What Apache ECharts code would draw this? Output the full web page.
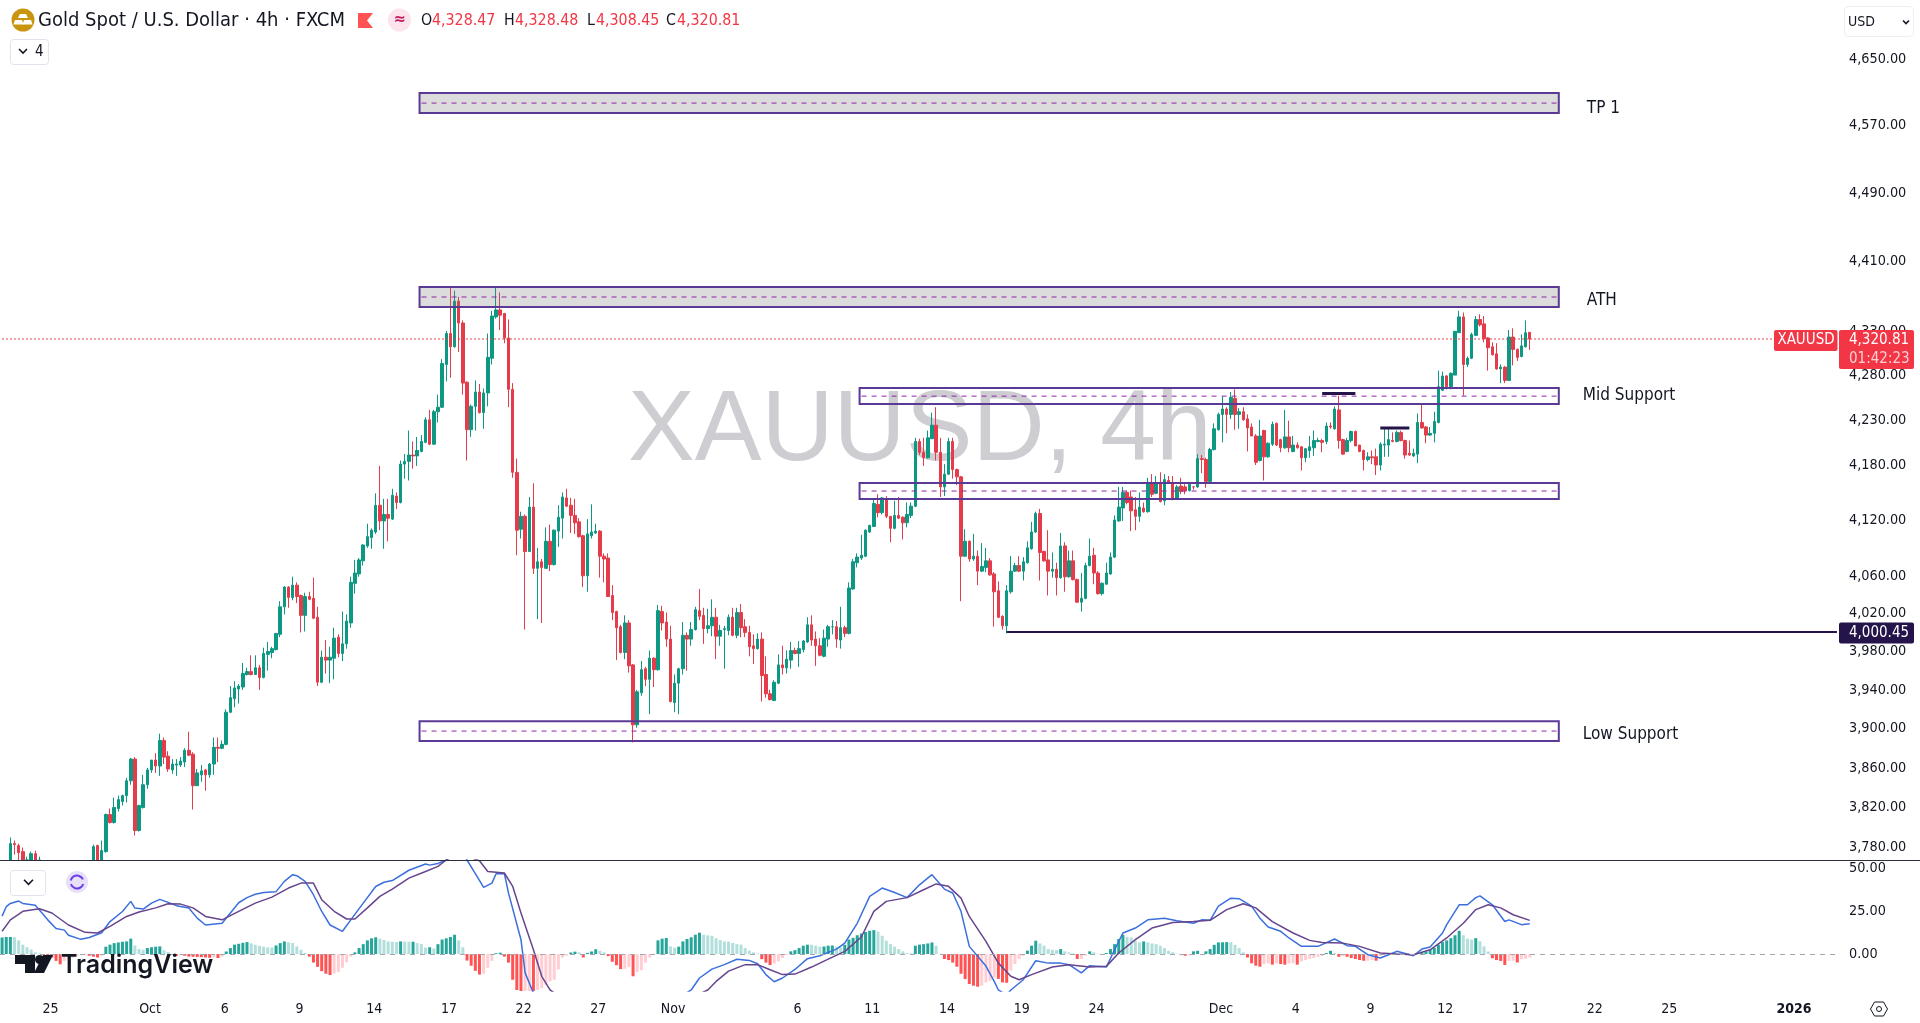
<!DOCTYPE html>
<html><head><meta charset="utf-8">
<style>html,body{margin:0;padding:0;background:#fff;overflow:hidden}#c{width:1920px;height:1023px}</style>
<script src="https://cdn.jsdelivr.net/npm/echarts@6/dist/echarts.min.js"></script>
</head><body><div id="c"></div>
<script>
// ---- price ticks and date ticks ----
const priceTicks=[4650,4570,4490,4410,4330,4280,4230,4180,4120,4060,4020,3980,3940,3900,3860,3820,3780];
const macdTicks=[0,25,50];
const dateTickIndex=[10,34,52,70,88,106,124,142,160,190,208,226,244,262,292,310,328,346,364,382,400,430];
const dateTickLabel=['25','Oct','6','9','14','17','22','27','Nov','6','11','14','19','24','Dec','4','9','12','17','22','25','2026'];
// ---- candles: [open, high, low, close] ----
const ohlc=[
[3760,3790,3750,3784],[3784,3787,3773,3783],[3782,3784,3760,3775],[3776,3780,3750,3755],[3762,3771,3740,3745],
[3750,3776,3745,3774],[3774,3777,3750,3755],[3767,3771,3740,3745],[3745,3750,3730,3735],[3735,3745,3725,3740],
[3740,3750,3732,3736],[3736,3748,3730,3745],[3745,3755,3740,3750],[3750,3760,3742,3746],[3746,3752,3735,3740],
[3740,3750,3735,3748],[3748,3758,3742,3744],[3744,3752,3738,3750],[3750,3758,3745,3755],[3755,3762,3748,3758],
[3758,3783,3752,3781],[3782,3783,3755,3760],[3760,3787,3755,3777],[3776,3814,3775,3813],[3813,3819,3804,3805],
[3805,3830,3804,3820],[3819,3832,3816,3828],[3826,3833,3822,3832],[3832,3850,3825,3847],[3847,3870,3843,3869],
[3869,3871,3792,3797],[3797,3823,3796,3822],[3820,3853,3819,3843],[3843,3860,3839,3858],[3858,3868,3855,3868],
[3868,3875,3855,3862],[3862,3895,3852,3888],[3888,3891,3864,3871],[3872,3877,3856,3859],[3858,3869,3854,3864],
[3863,3869,3852,3864],[3863,3871,3861,3867],[3866,3880,3861,3878],[3878,3897,3872,3873],[3874,3876,3818,3842],
[3842,3859,3842,3855],[3853,3863,3846,3857],[3858,3859,3837,3853],[3853,3865,3850,3864],[3864,3891,3853,3881],
[3881,3891,3866,3880],[3880,3888,3879,3884],[3884,3920,3883,3917],[3917,3944,3916,3932],[3931,3949,3922,3942],
[3941,3946,3926,3944],[3943,3968,3940,3957],[3956,3963,3955,3959],[3959,3976,3955,3956],[3956,3976,3956,3963],
[3963,3966,3940,3953],[3953,3984,3952,3978],[3977,3990,3960,3980],[3979,3985,3973,3983],[3982,3999,3981,3999],
[3998,4033,3995,4027],[4027,4049,4019,4048],[4048,4049,4026,4037],[4037,4059,4034,4050],[4050,4053,4031,4038],
[4039,4040,4000,4018],[4018,4042,4001,4038],[4038,4043,4034,4035],[4036,4058,4014,4015],[4016,4027,3944,3948],
[3948,3981,3947,3974],[3974,3992,3957,3971],[3971,3985,3947,3974],[3973,4005,3951,3994],[3995,3998,3974,3978],
[3978,4022,3970,3988],[3988,4019,3983,4012],[4010,4059,4005,4053],[4052,4077,4041,4063],[4062,4079,4059,4077],
[4076,4094,4071,4093],[4092,4116,4090,4102],[4101,4111,4089,4109],[4107,4149,4105,4136],[4136,4179,4109,4119],
[4119,4143,4089,4126],[4126,4143,4097,4122],[4121,4154,4120,4147],[4146,4150,4132,4139],[4139,4185,4138,4181],
[4181,4192,4165,4184],[4184,4218,4163,4191],[4191,4206,4176,4190],[4190,4211,4179,4196],[4195,4213,4194,4206],
[4205,4233,4204,4230],[4230,4241,4202,4203],[4203,4241,4202,4239],[4239,4258,4227,4244],[4244,4298,4243,4293],
[4292,4330,4273,4327],[4327,4379,4277,4312],[4312,4376,4311,4364],[4364,4369,4306,4339],[4339,4342,4258,4271],
[4272,4273,4185,4219],[4219,4247,4211,4245],[4245,4274,4218,4261],[4261,4270,4237,4238],[4238,4265,4220,4260],
[4260,4327,4245,4300],[4299,4353,4292,4347],[4346,4381,4344,4354],[4354,4374,4331,4348],[4350,4350,4316,4322],
[4322,4343,4244,4264],[4264,4271,4166,4172],[4172,4187,4082,4109],[4110,4129,4100,4124],[4124,4126,4003,4086],
[4086,4145,4086,4134],[4134,4160,4062,4068],[4068,4090,4014,4075],[4075,4078,4010,4069],[4068,4112,4068,4097],
[4097,4115,4065,4072],[4072,4110,4071,4109],[4108,4136,4091,4123],[4122,4150,4100,4145],[4144,4154,4134,4135],
[4136,4144,4106,4125],[4125,4143,4105,4117],[4118,4122,4101,4102],[4103,4104,4048,4060],[4060,4121,4043,4105],
[4103,4137,4100,4107],[4106,4116,4105,4108],[4108,4109,4058,4081],[4081,4084,4053,4078],[4079,4084,4038,4038],
[4039,4050,4013,4021],[4022,4023,3971,4005],[4006,4008,3978,3979],[3979,4018,3972,4010],[4010,4013,3958,3965],
[3966,3967,3886,3904],[3904,3940,3901,3938],[3937,3970,3934,3961],[3962,3964,3944,3951],[3951,3981,3915,3973],
[3973,3974,3943,3961],[3961,4029,3960,4023],[4022,4028,4002,4010],[4011,4021,3985,3993],[3993,4007,3927,3928],
[3927,3956,3917,3947],[3947,3963,3915,3962],[3962,4011,3956,3997],[3997,4000,3960,3993],[3993,4011,3986,4003],
[4003,4027,4002,4024],[4023,4046,4013,4017],[4018,4026,3988,4004],[4004,4025,3999,4007],[4007,4035,3996,4016],
[4016,4026,3972,3996],[3996,4008,3986,4002],[4003,4007,3962,4004],[4002,4019,3997,4016],[4016,4026,3996,3997],
[3997,4026,3994,4021],[4021,4030,3995,4005],[4006,4014,3995,4000],[4000,4007,3975,3985],[3986,3998,3967,3983],
[3983,3999,3982,3993],[3993,4000,3928,3955],[3956,3975,3932,3936],[3936,3940,3929,3930],[3929,3950,3929,3948],
[3947,3977,3946,3966],[3966,3986,3956,3963],[3963,3981,3957,3972],[3971,3990,3962,3981],[3981,3984,3977,3978],
[3978,3991,3964,3983],[3982,3992,3979,3991],[3990,4016,3989,4008],[4008,4018,3986,3992],[3993,4001,3965,3986],
[3986,3994,3975,3976],[3975,4003,3974,3994],[3993,4008,3985,4006],[4006,4013,3998,4006],[4006,4012,3984,3993],
[3992,4027,3983,4005],[4005,4007,3995,3999],[3999,4053,3998,4047],[4046,4078,4045,4075],[4074,4084,4069,4080],
[4079,4104,4077,4082],[4081,4110,4080,4109],[4107,4115,4106,4114],[4113,4142,4113,4138],[4137,4148,4123,4128],
[4128,4145,4126,4144],[4142,4146,4122,4124],[4124,4124,4096,4111],[4111,4141,4110,4125],[4125,4145,4121,4122],
[4123,4124,4099,4117],[4117,4139,4112,4126],[4125,4139,4122,4135],[4135,4210,4134,4206],[4206,4209,4191,4194],
[4194,4210,4179,4188],[4188,4218,4187,4210],[4209,4238,4209,4224],[4224,4244,4185,4194],[4194,4210,4145,4156],
[4156,4181,4146,4170],[4170,4210,4169,4206],[4206,4210,4165,4175],[4175,4176,4158,4167],[4167,4168,4033,4081],
[4081,4110,4080,4097],[4097,4098,4075,4078],[4078,4105,4076,4081],[4081,4087,4050,4065],[4065,4095,4064,4070],
[4069,4090,4064,4076],[4076,4079,4060,4061],[4062,4064,4006,4043],[4044,4054,4015,4016],[4017,4018,4003,4007],
[4007,4050,3999,4044],[4043,4081,4041,4065],[4065,4074,4064,4071],[4071,4081,4064,4065],[4065,4080,4055,4075],
[4074,4097,4073,4090],[4089,4118,4088,4107],[4107,4129,4106,4127],[4127,4132,4055,4085],[4086,4087,4075,4076],
[4077,4109,4039,4065],[4065,4085,4058,4067],[4067,4074,4039,4058],[4058,4106,4057,4092],[4092,4096,4043,4059],
[4059,4087,4058,4076],[4076,4087,4055,4056],[4056,4057,4031,4032],[4032,4063,4022,4036],[4036,4074,4035,4071],
[4071,4100,4070,4081],[4082,4090,4051,4063],[4063,4065,4040,4041],[4041,4053,4039,4052],[4051,4074,4051,4063],
[4062,4085,4061,4080],[4080,4125,4079,4120],[4119,4156,4118,4134],[4133,4156,4119,4150],[4150,4152,4137,4139],
[4145,4152,4108,4130],[4131,4145,4109,4124],[4124,4150,4118,4134],[4133,4139,4128,4129],[4129,4166,4128,4161],
[4160,4170,4145,4148],[4149,4168,4148,4160],[4161,4172,4139,4140],[4141,4170,4136,4164],[4163,4168,4160,4161],
[4161,4168,4142,4142],[4143,4158,4142,4156],[4157,4166,4148,4151],[4156,4159,4148,4152],[4152,4161,4151,4159],
[4156,4157,4153,4156],[4156,4192,4155,4187],[4187,4191,4171,4186],[4186,4188,4155,4162],[4162,4199,4161,4197],
[4197,4226,4196,4220],[4219,4238,4218,4236],[4236,4256,4205,4242],[4242,4244,4215,4236],[4236,4261,4231,4255],
[4254,4264,4219,4236],[4236,4243,4220,4239],[4239,4244,4229,4230],[4231,4236,4195,4221],[4222,4226,4212,4212],
[4212,4214,4180,4183],[4185,4230,4184,4212],[4218,4219,4163,4189],[4189,4205,4188,4204],[4203,4228,4201,4225],
[4226,4227,4201,4202],[4208,4209,4194,4199],[4199,4241,4198,4211],[4211,4229,4194,4199],[4195,4212,4194,4202],
[4202,4205,4198,4199],[4200,4201,4174,4188],[4188,4198,4183,4198],[4196,4212,4188,4200],[4199,4218,4190,4207],
[4206,4210,4205,4207],[4207,4209,4194,4205],[4206,4227,4203,4223],[4223,4227,4220,4222],[4220,4245,4219,4242],
[4241,4257,4198,4207],[4208,4209,4191,4192],[4195,4210,4194,4207],[4207,4218,4205,4217],[4217,4218,4201,4201],
[4202,4202,4194,4195],[4196,4197,4174,4186],[4186,4194,4184,4189],[4189,4196,4181,4188],[4189,4198,4169,4180],
[4180,4205,4174,4203],[4202,4220,4189,4203],[4202,4221,4189,4208],[4207,4216,4205,4206],[4206,4218,4205,4216],
[4216,4218,4206,4207],[4207,4208,4187,4191],[4193,4207,4190,4191],[4190,4198,4189,4193],[4192,4237,4182,4227],
[4227,4247,4220,4221],[4222,4223,4204,4213],[4213,4222,4212,4215],[4215,4239,4205,4228],[4227,4285,4226,4267],
[4263,4284,4262,4279],[4279,4280,4264,4267],[4267,4283,4264,4282],[4280,4330,4280,4329.5],[4328,4353,4328,4346],
[4346,4351,4257,4292],[4292,4301,4289,4299],[4299,4328,4298,4326],[4325,4347,4324,4343],[4343,4349,4335,4337],
[4338,4347,4317,4321],[4322,4323,4285,4311],[4312,4317,4302,4303],[4304,4316,4286,4287],[4287,4292,4271,4289],
[4289,4290,4271,4274],[4274,4331,4274,4323],[4323,4333,4291,4309],[4309,4310,4296,4300],[4301,4326,4300,4313],
[4312,4342,4311,4328],[4328.47,4328.48,4308.45,4320.81]
];
// ---- MACD histogram, from the bar two places left of the first candle ----
const macdHist=[
9.7,10,10,9.8,8,5.5,4,2.7,1,.4,-.5,-1,-2,-4,-6,-4,-3,-2,-1,-.6,-.5,-1,-1.5,-2,-1,
4.3,5.5,6.4,6.8,7.2,7.4,9,5,3,2.5,3.5,4,4.3,4.5,2.3,1.2,
-.5,-1,-.8,-1,-1.5,-1.6,-1.7,-1.8,-2,-2.2,-2,-2.3,-1.5,
1.5,3.5,5.5,6,6.6,7,6.3,5.4,4.8,4.3,3.9,3.8,5,6.4,7.4,6.9,6.5,4.4,2.5,.6,
-1.5,-5,-7.5,-10,-11.5,-12.3,-11.3,-10.5,-8,-4.8,-1.5,
1,3.5,5.8,8,9.2,9.8,9,8.2,7.4,7.2,7,7.4,7.3,7.2,7.2,6.4,5.8,3.8,4,3.3,5.8,8.5,9.2,10,11.3,8,4,
-3.8,-6.8,-9.8,-12,-11.5,-8,-4,.5,.8,
-1.5,-5,-15,-21,-22,-22,-22,-23,-21,-20,-18,-16,-15,-9,-2,-1,
.9,1.4,1,-2,.7,1.5,2.8,1.9,1,
-1.2,-4.5,-6.5,-8.8,-8.6,-7.5,-13,-10.5,-9.5,-5,-2,-.5,
8,9,9.4,4.5,3.8,4.3,
7.4,8.8,9.8,11.3,12.5,11.3,10.9,10.7,9.3,8.2,7.4,7.3,6.5,5.8,5.5,3.5,2,1,.4,
-3,-5,-6.4,-5.5,-4.3,-2.3,-.6,
1.6,2.3,3.5,4.9,5.5,5.4,4.9,4.3,4.4,4.9,5,4.3,3.9,5.4,8.5,9.5,11,12,12.9,13.6,14,13.2,10.7,7.8,5.8,4.3,2.9,1.6,.6,.4,
4.9,5.5,5.8,6.2,6.8,4.9,.1,
-2.9,-3.5,-5,-7.4,-11.5,-14.6,-17.5,-18.5,-19.1,-18.5,-16.6,-15.6,-13.6,-14.5,-16.6,-16.8,-9.7,-5.8,-2.9,-1,
2,4.9,7.8,6.2,4.9,2.9,2.5,2.3,2.9,1.6,1,.3,
-2.9,-2.9,-1,1.6,1,.2,-.4,.6,2.9,5.8,8.8,11.3,10.1,9.7,7.8,6.8,7.4,6.8,6.2,5.8,4.9,3.5,1.9,1,.2,
-.6,-1,-.8,1.6,1.9,0,1.6,2.9,5.4,6.8,6.9,7,6.9,5.4,3.5,1,
-2,-5.4,-6.8,-7.4,-5.8,-5.4,-6.2,-5.4,-5.8,-6.2,-5.4,-5.4,-6.2,-4.3,-3.5,-2.9,-2.3,-1.6,-1,
.6,1.9,.6,-1.6,-1,-1.6,-2.3,-2.9,-3.5,-3.9,-3.9,-3.5,-3.9,-1,-.5,-.3,-.2,-.1,
.1,.1,-.2,-.1,.6,.9,1.5,2.5,3.6,5.5,7,8,9.3,11,13.6,11,9,8.5,9.3,7.5,4.5,1.5,
-2.5,-3.5,-4,-6.4,-4,-3.9,-4.9,-3,-2.8,-2
];
// ---- MACD line and signal line: [candle number, value] ----
const macdLine=[[-2,22.2],[-1,27.7],[0,29.6],[2,31],[3,29.6],[6,28.6],[7,25.7],[9,20],[11,15],[13,14],[14,11],[17,8.6],[19,9.7],[22,12.5],[24,19],[27,24.9],[29,30.8],[30,26.9],[32,26.3],[34,29.8],[36,32],[38,30.2],[40,28.3],[43,26.9],[45,21],[47,17],[51,18],[53,24],[55,30],[57,33],[59,35],[61,36],[64,36.5],[66,42.5],[68,46.4],[69,45.8],[71,42.5],[73,34.7],[75,24.9],[77,17],[80,13.3],[82,20],[85,29.8],[88,39.5],[90,42],[92,43],[96,49],[100,52.7],[101,52],[103,53],[105,55],[108,62],[110,55],[112,47],[114,39],[116,41.5],[117,47],[119,47],[120,35.6],[123,8.4],[124,-11],[126,-22.8],[135,-38],[140,-45],[155,-35],[164,-21],[166,-14],[169,-8.8],[172,-6.2],[175,-3],[178,-3.7],[180,-5.7],[182,-12],[184,-16.2],[186,-14],[189,-9],[192,-2.7],[195,-1],[199,2.9],[201,6.4],[204,18],[207,33.7],[210,38.6],[213,36],[216,33],[219,40.5],[222,46.4],[225,38],[227,35.7],[229,25],[231,4.5],[235,-7],[237,-16],[238,-21],[240,-24],[241,-21],[244,-15],[247,-3.9],[250,-5.3],[253,-5.3],[255,-6.2],[258,-11],[260,-6.8],[264,-7.6],[266,2.5],[268,12.3],[271,15.2],[274,20],[278,21],[281,19.5],[285,18],[287,20],[289,19.7],[291,28],[294,32.7],[296,32.4],[299,28],[301,21],[303,15.8],[306,13.3],[308,9.4],[311,4.5],[315,4.5],[319,8.8],[322,4.9],[324,4.5],[327,-.4],[330,-2.3],[332,-.4],[334,1.6],[338,-1],[340,2.9],[342,4.1],[345,12.3],[346,17.2],[349,28.8],[351,28.8],[353,33],[354,34],[357,28.8],[360,19],[361,20],[364,17.2],[366,17.7]];
const signalLine=[[-2,13.3],[0,20],[3,25],[7,26.5],[10,24],[14,17],[18,12.7],[21,12.3],[24,16.2],[28,22],[31,24.6],[35,27],[38,29.4],[41,29.2],[44,27],[47,22],[51,20],[55,25],[59,29.8],[63,33.3],[67,38.6],[70,41.5],[73,41.5],[75,31.8],[78,25],[81,20.5],[83,20.5],[86,27],[89,33.7],[92,38],[96,44.4],[100,48.3],[103,51.3],[105,55],[108,59],[113,54.6],[115,48.3],[119,47.4],[121,39.6],[123,24],[126,2.5],[128,-13],[130,-21],[140,-38],[150,-38],[160,-30],[168,-21],[170,-16],[173,-10],[177,-6.2],[180,-6.2],[183,-9.2],[186,-12],[189,-11.7],[193,-7.6],[197,-3],[201,1.6],[205,10],[208,25],[211,30.8],[216,33],[220,37.6],[223,41],[226,39.6],[229,32.7],[231,22],[235,7.4],[238,-5.3],[241,-13],[243,-15],[246,-12],[251,-7.6],[255,-6.2],[260,-7.6],[264,-7.2],[267,.6],[271,8.4],[275,15.2],[280,18.5],[285,19],[289,19.7],[293,26],[297,29.4],[300,27],[304,19],[309,12.3],[313,8],[316,6.8],[321,6.4],[325,4.5],[330,.6],[334,0],[338,-.4],[342,2.5],[346,9.4],[350,18],[353,26],[356,28.8],[359,27],[362,23],[366,19.7]];
// ---- drawn zones ----
const zoneNames=['TP 1','ATH','Mid Support','','Low Support'];
const zoneStart=[99,99,205,205,99];
const zoneEnd=[373,373,373,373,373];
const zoneTop=[4609.4,4380.3,4265.4,4160.2,3907.8];
const zoneBottom=[4585.2,4357.2,4247.5,4142.8,3887.4];
const zoneMid=[4597.3,4368.8,4256.4,4151.5,3897.6];
const zoneFilled=[1,1,0,0,0];
const zoneLabelShift=[3,1.5,-2.5,0,1];
// ---- horizontal levels ----
const lastPrice=4320.81, lowLevel=4000.45, lowLevelStart=240, levelA=[316,324,4259.4], levelB=[330,337,4221];

const PAD=2, TOTAL=443, PRICE_MIN=3767.7, PRICE_MAX=4723.6;
const GREEN='#0c9883', RED='#f23645', CANDLE_RED='#e43c4b', PURPLE='#5b3a95', NAVY='#241449', INK='#131722';
const FONT='"DejaVu Sans Condensed","DejaVu Sans",sans-serif';
const categories=new Array(TOTAL).fill('');
dateTickIndex.forEach((n,i)=>{categories[n+PAD]=dateTickLabel[i];});
const keep=v=>Math.max(v,PRICE_MIN); // the pane hides what falls under its floor
const candleData=new Array(PAD).fill(['-','-','-','-']).concat(ohlc.map(r=>r[1]<PRICE_MIN?['-','-','-','-']:[keep(r[0]),keep(r[3]),keep(r[2]),keep(r[1])]));
const histColor=(v,i)=>{const p=i>0?macdHist[i-1]:v;return v>=0?(v>=p?'#26a69a':'#b2dfdb'):(v<p?'#ff5252':'#ffcdd2');};
const histData=macdHist.map((v,i)=>({value:v,itemStyle:{color:histColor(v,i)}}));
const fmt=v=>Number(v).toLocaleString('en-US',{minimumFractionDigits:2,maximumFractionDigits:2});
const line=(name,pts,width,color,x,y)=>({type:'line',name,xAxisIndex:x,yAxisIndex:y,data:pts,showSymbol:false,symbol:'none',
  lineStyle:{width,color},itemStyle:{color},silent:true,z:4,animation:false});
const chevron=(cx,cy,s,c)=>({type:'polyline',z:50,shape:{points:[[cx-s,cy-s/2],[cx,cy+s/2],[cx+s,cy-s/2]]},style:{stroke:c,lineWidth:1.6,fill:null}});
const txt=(x,y,t,size,color,extra)=>({type:'text',x,y,z:50,style:Object.assign({text:t,font:size+'px '+FONT,fill:color,verticalAlign:'middle',align:'left'},extra||{})});

const graphics=[
 {type:'text',x:628,y:432,z:-5,silent:true,style:{text:'XAUUSD, 4h',font:'100px "Liberation Sans",Arial,sans-serif',fill:'#cdcdd2',verticalAlign:'middle'}},
 {type:'circle',z:50,shape:{cx:23,cy:20,r:11.5},style:{fill:'#c9940e'}},
 {type:'polygon',z:51,shape:{points:[[20,14],[26,14],[28,18],[18,18]]},style:{fill:'#fff'}},
 {type:'polygon',z:51,shape:{points:[[15,20],[22,20],[23.5,24.5],[13.5,24.5]]},style:{fill:'#fff'}},
 {type:'polygon',z:51,shape:{points:[[24,20],[31,20],[32.5,24.5],[22.5,24.5]]},style:{fill:'#fff'}},
 txt(38,21,'Gold Spot / U.S. Dollar · 4h · FXCM',20,INK),
 {type:'polygon',z:50,shape:{points:[[358,13],[373,13],[367,20.5],[373,28],[358,28]]},style:{fill:'#ff5252'}},
 {type:'circle',z:50,shape:{cx:399.5,cy:20,r:11.5},style:{fill:'#fce4ec'}},
 {type:'text',x:399.5,y:20,z:51,style:{text:'≈',font:'bold 16px '+FONT,fill:'#c2185b',align:'center',verticalAlign:'middle'}},
 txt(421,21,'O',15.8,INK),txt(432,21,'4,328.47',15.8,RED),
 txt(504,21,'H',15.8,INK),txt(515,21,'4,328.48',15.8,RED),
 txt(587,21,'L',15.8,INK),txt(596,21,'4,308.45',15.8,RED),
 txt(666,21,'C',15.8,INK),txt(677,21,'4,320.81',15.8,RED),
 {type:'rect',z:50,shape:{x:10.5,y:39.5,width:38,height:25,r:3},style:{fill:'#fff',stroke:'#e0e3eb'}},
 chevron(23,51,4,INK),txt(35,52,'4',15,INK),
 {type:'rect',z:50,shape:{x:1844.5,y:6.5,width:69,height:30,r:4},style:{fill:'#fff',stroke:'#eceef3'}},
 txt(1848,22,'USD',14,INK),chevron(1906,22,3,INK),
 {type:'rect',z:50,shape:{x:10.5,y:870.5,width:35,height:25,r:3},style:{fill:'#fff',stroke:'#e0e3eb'}},
 chevron(28.5,882,4.5,INK),
 {type:'circle',z:50,shape:{cx:77,cy:882,r:11},style:{fill:'#e8e0fb'}},
 {type:'arc',z:51,shape:{cx:77,cy:882,r:6.5,startAngle:-2.9,endAngle:-0.4},style:{stroke:'#6a3de8',lineWidth:2,fill:null}},
 {type:'arc',z:51,shape:{cx:77,cy:882,r:6.5,startAngle:0.3,endAngle:2.8},style:{stroke:'#6a3de8',lineWidth:2,fill:null}},
 // TradingView logo
 {type:'polygon',z:60,shape:{points:[[15,955],[35,955],[35,973],[25,973],[25,964],[15,964]]},style:{fill:'#131722'}},
 {type:'circle',z:60,shape:{cx:39.5,cy:959.5,r:4.5},style:{fill:'#131722'}},
 {type:'polygon',z:60,shape:{points:[[43,955],[53,955],[44,973],[34,973]]},style:{fill:'#131722'}},
 {type:'text',x:61,y:965,z:60,style:{text:'TradingView',font:'600 25px Inter,sans-serif',fill:'#131722',verticalAlign:'middle'}},
 // pane divider
 {type:'line',z:40,shape:{x1:0,y1:860.5,x2:1920,y2:860.5},style:{stroke:'#2a2e39',lineWidth:1}},
 // settings hexagon
 {type:'polygon',z:50,shape:{points:[[1870.5,1009],[1874.5,1002],[1883.5,1002],[1887.5,1009],[1883.5,1016],[1874.5,1016]]},style:{fill:'#fff',stroke:INK,lineWidth:1}},
 {type:'circle',z:51,shape:{cx:1879,cy:1009,r:2.5},style:{fill:'#fff',stroke:INK,lineWidth:1}}
];

const chart=echarts.init(document.getElementById('c'),null,{renderer:'canvas'});
chart.setOption({
 animation:false,backgroundColor:'#ffffff',
 grid:[{left:-2.09,top:0,width:1841.09,height:860},{left:-2.09,top:860,width:1841.09,height:131}],
 xAxis:[
  {type:'category',gridIndex:0,data:categories,boundaryGap:true,axisLine:{show:false},axisTick:{show:false},axisLabel:{show:false},splitLine:{show:false}},
  {type:'category',gridIndex:1,data:categories,boundaryGap:true,axisLine:{show:false},axisTick:{show:false},splitLine:{show:false},
   axisLabel:{interval:(i,v)=>v!=='',margin:11,padding:[0,3,0,0],color:INK,fontFamily:FONT,fontSize:14,hideOverlap:false,
     formatter:v=>v==='2026'?'{b|2026}':v,rich:{b:{fontWeight:'bold',fontSize:14,fontFamily:FONT,color:INK}}}}
 ],
 yAxis:[
  {type:'log',logBase:10,gridIndex:0,position:'right',min:PRICE_MIN,max:PRICE_MAX,axisLine:{show:false},axisTick:{show:false},splitLine:{show:false},minorTick:{show:false},
   axisLabel:{customValues:priceTicks,margin:10,color:INK,fontFamily:FONT,fontSize:14.3,formatter:fmt,showMinLabel:true,showMaxLabel:true,align:'left'}},
  {type:'value',gridIndex:1,position:'right',min:-21.6,max:55,axisLine:{show:false},axisTick:{show:false},splitLine:{show:false},
   axisLabel:{customValues:macdTicks,margin:10,color:INK,fontFamily:FONT,fontSize:14.3,formatter:fmt,align:'left'}}
 ],
 series:[
  {type:'candlestick',name:'XAUUSD',xAxisIndex:0,yAxisIndex:0,data:candleData,barWidth:3,silent:true,z:2,
   itemStyle:{color:GREEN,color0:CANDLE_RED,borderColor:GREEN,borderColor0:CANDLE_RED,borderWidth:1}},
  Object.assign(line('Last price',[[0,lastPrice],[427,lastPrice]],1,RED,0,0),{lineStyle:{type:[2,2],width:1,color:'#e0404f'}}),
  Object.assign(line('Low level',[[lowLevelStart+PAD,lowLevel],[442,lowLevel]],2,NAVY,0,0),{z:6}),
  Object.assign(line('Level A',[[levelA[0]+PAD,levelA[2]],[levelA[1]+PAD,levelA[2]]],3,NAVY,0,0),{z:6}),
  Object.assign(line('Level B',[[levelB[0]+PAD,levelB[2]],[levelB[1]+PAD,levelB[2]]],3,NAVY,0,0),{z:6}),
  {type:'custom',name:'Zones',xAxisIndex:0,yAxisIndex:0,z:5,silent:true,clip:false,
   data:zoneNames.map((n,i)=>[zoneStart[i]+PAD,zoneEnd[i]+PAD,zoneTop[i],zoneBottom[i],zoneMid[i],zoneFilled[i]]),
   encode:{x:[0,1],y:[2,3,4]},
   renderItem:(p,api)=>{
    const a=api.coord([api.value(0),api.value(2)]),b=api.coord([api.value(1),api.value(3)]),m=api.coord([api.value(0),api.value(4)]);
    const name=zoneNames[p.dataIndex];
    const x0=a[0]-1.8;
    const kids=[
     {type:'rect',shape:{x:x0,y:a[1],width:b[0]-x0,height:b[1]-a[1]},style:{fill:api.value(5)?'rgba(120,120,125,0.26)':'rgba(0,0,0,0)',stroke:PURPLE,lineWidth:2}},
     {type:'line',shape:{x1:x0+2,y1:m[1],x2:b[0],y2:m[1]},style:{stroke:'#8e24aa',lineWidth:1,lineDash:[5,5]}}
    ];
    if(name)kids.push({type:'text',style:{x:b[0]+(name.length<5?28:24),y:(a[1]+b[1])/2+2+zoneLabelShift[p.dataIndex],text:name,font:'17px '+FONT,fill:INK,verticalAlign:'middle'}});
    return {type:'group',children:kids};
   }},
  {type:'bar',name:'Histogram',xAxisIndex:1,yAxisIndex:1,data:histData,barWidth:3,silent:true,z:2,
   markLine:{silent:true,symbol:'none',label:{show:false},lineStyle:{color:'#a3a6af',type:[5,5],width:1},data:[{yAxis:0}]}},
  line('MACD',macdLine.map(r=>[r[0]+PAD,r[1]]),1.5,'#3b6fdc',1,1),
  line('Signal',signalLine.map(r=>[r[0]+PAD,r[1]]),1.5,'#66458f',1,1),
  {type:'custom',name:'Price tags',xAxisIndex:0,yAxisIndex:0,z:30,silent:true,clip:false,
   data:[[0,lastPrice],[0,lowLevel]],encode:{x:0,y:1},
   renderItem:(p,api)=>{
    const y=api.coord([0,api.value(1)])[1],X=1839;
    if(p.dataIndex===0)return {type:'group',children:[
      {type:'rect',shape:{x:X-65,y:y-9,width:63.5,height:21,r:2},style:{fill:RED}},
      {type:'text',style:{x:X-33,y:y+1.5,text:'XAUUSD',font:'15px '+FONT,fill:'#fff',align:'center',verticalAlign:'middle'}},
      {type:'rect',shape:{x:X,y:y-9,width:75,height:39,r:2},style:{fill:RED}},
      {type:'text',style:{x:X+10,y:y+1,text:fmt(api.value(1)),font:'15px '+FONT,fill:'#fff',verticalAlign:'middle'}},
      {type:'text',style:{x:X+10,y:y+20,text:'01:42:23',font:'15px '+FONT,fill:'#fdd0d5',verticalAlign:'middle'}}]};
    return {type:'group',children:[
      {type:'rect',shape:{x:X,y:y-9.5,width:75,height:21,r:2},style:{fill:NAVY}},
      {type:'text',style:{x:X+10,y:y+1,text:fmt(api.value(1)),font:'15px '+FONT,fill:'#fff',verticalAlign:'middle'}}]};
   }}
 ],
 graphic:{elements:graphics}
});
</script></body></html>
